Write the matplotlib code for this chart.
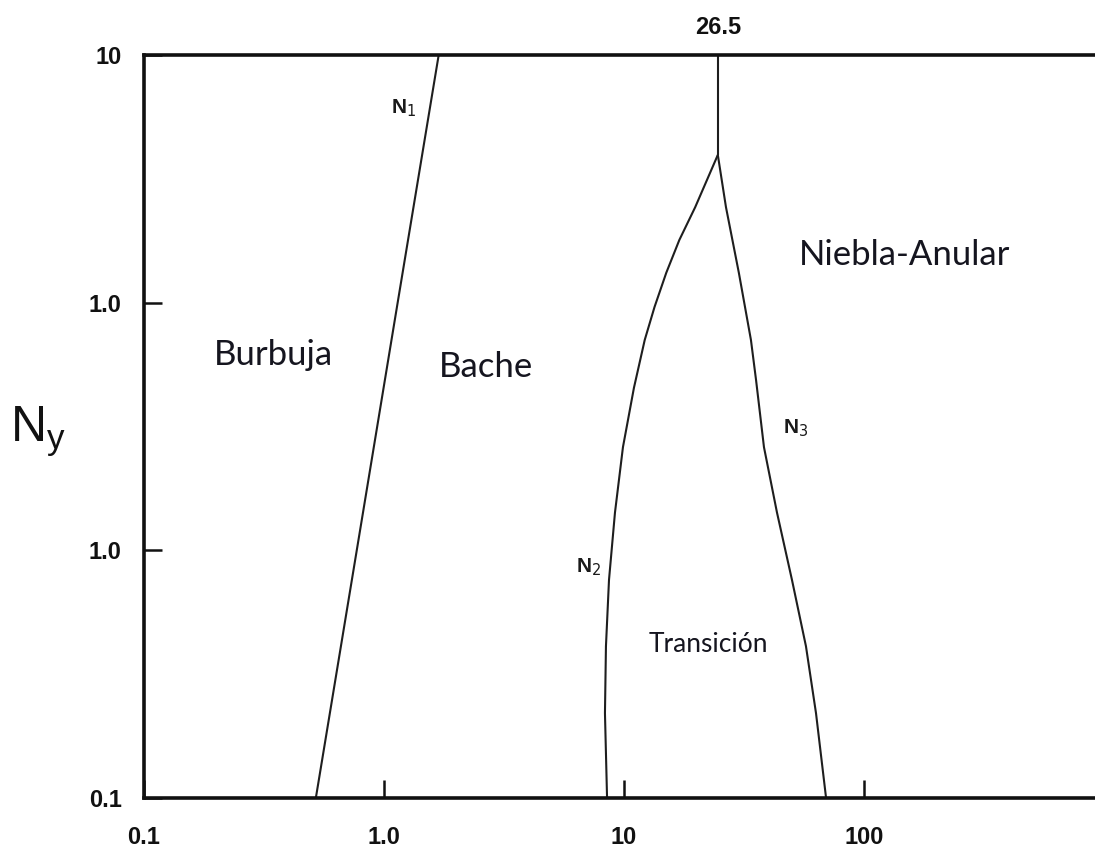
import matplotlib
matplotlib.use("Agg")
import matplotlib.pyplot as plt

# ---- data ----
x_ticks = [0.1, 1.0, 10.0, 100.0]
x_tick_labels = ["0.1", "1.0", "10", "100"]
y_ticks = [0.1, 1.0, 10.0, 100.0]
y_tick_labels = ["0.1", "1.0", "1.0", "10"]

# N1 boundary (Burbuja / Bache)
n1_x = [0.52, 0.77, 1.14, 1.69]
n1_y = [0.1, 1.0, 10.0, 100.0]

# N2 boundary (Bache / Transición)
n2_x = [8.5, 8.33, 8.41, 8.66, 9.17, 9.9, 11.0, 12.2, 13.4, 15.0, 17.0, 19.8, 24.6]
n2_y = [0.1, 0.22, 0.41, 0.76, 1.42, 2.61, 4.53, 7.07, 9.6, 13.2, 17.9, 24.3, 39.5]

# N3 boundary (Transición / Niebla-Anular)
n3_x = [24.6, 26.6, 30.1, 33.8, 35.5, 38.3, 43.4, 50.1, 57.3, 63.1, 69.5]
n3_y = [39.5, 24.3, 13.2, 7.07, 4.87, 2.61, 1.42, 0.76, 0.41, 0.22, 0.1]

# vertical boundary above the apex
v_x = [24.6, 24.6]
v_y = [39.5, 100.0]
v_label = "26.5"

regions = ["Burbuja", "Bache", "Niebla-Anular", "Transición"]
region_x = [0.345, 2.66, 148.0, 22.4]
region_y = [6.15, 5.5, 15.6, 0.415]

curve_labels = ["N$_1$", "N$_2$", "N$_3$"]
curve_label_x = [1.21, 7.14, 52.0]
curve_label_y = [61.0, 0.857, 3.12]

ylabel = "N$_\\mathregular{y}$"

# ---- figure ----
W, H = 1095, 850
fig = plt.figure(figsize=(W / 100, H / 100), dpi=100)
left_px, right_px, top_px, bottom_px = 144, 1104, 55, 798
ax = fig.add_axes([left_px / W, 1 - bottom_px / H,
                   (right_px - left_px) / W, (bottom_px - top_px) / H])
ax.set_xscale("log")
ax.set_yscale("log")
ax.set_xlim(0.1, 1000)
ax.set_ylim(0.1, 100)

line_kw = dict(color="#1e1e1e", lw=1.5, solid_capstyle="butt", solid_joinstyle="round")
ax.plot(n1_x, n1_y, **line_kw)
ax.plot(n2_x, n2_y, **line_kw)
ax.plot(n3_x, n3_y, **line_kw)
ax.plot(v_x, v_y, **line_kw)

for s in ax.spines.values():
    s.set_linewidth(2.6)
    s.set_color("#111111")

ax.minorticks_off()
ax.set_xticks(x_ticks)
ax.set_xticklabels(x_tick_labels)
ax.set_yticks(y_ticks)
ax.set_yticklabels(y_tick_labels)
ax.tick_params(axis="both", direction="in", length=13, width=1.8, color="#111111")
ax.tick_params(axis="x", pad=20)
ax.tick_params(axis="y", pad=16)
for lab in ax.get_xticklabels() + ax.get_yticklabels():
    lab.set_fontfamily("Liberation Sans")
    lab.set_fontweight("bold")
    lab.set_fontsize(17)
    lab.set_color("#111111")

# apex value label above the top spine
ax.annotate(v_label, xy=(v_x[0], 1.0), xycoords=("data", "axes fraction"),
            xytext=(0, 20), textcoords="offset points", ha="center", va="center",
            fontfamily="Liberation Sans", fontweight="bold", fontsize=17, color="#111111")

# region names
reg_sizes = [25, 25, 25, 19]
for t, x, y, fs in zip(regions, region_x, region_y, reg_sizes):
    ax.text(x, y, t, ha="center", va="center", fontfamily="Lato",
            fontsize=fs, color="#15151f")

# curve labels
for t, x, y in zip(curve_labels, curve_label_x, curve_label_y):
    ax.text(x, y, t, ha="center", va="center", fontfamily="Liberation Sans",
            fontweight="bold", fontsize=15, color="#1a1a1a")

# y-axis label (horizontal, far left)
fig.text(10 / W, 1 - 432 / H, ylabel, ha="left", va="center",
         fontfamily="Liberation Sans", fontsize=36, color="#111111")

fig.savefig("out.png", dpi=100, facecolor="white")
